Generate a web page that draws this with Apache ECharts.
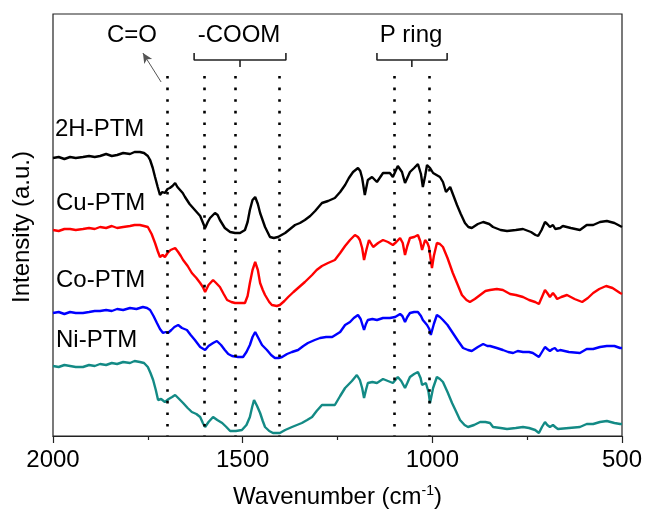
<!DOCTYPE html>
<html>
<head>
<meta charset="utf-8">
<script src="https://cdn.jsdelivr.net/npm/echarts@6/dist/echarts.min.js"></script>
<style>
html, body {margin: 0; padding: 0; background: #fff;}
#main {width: 646px; height: 523px;}
</style>
</head>
<body>
<div id="main"></div>
<script>
// FTIR spectra, stacked with offsets (a.u.), x = wavenumber (cm-1)
var sampleNames = ['2H-PTM', 'Cu-PTM', 'Co-PTM', 'Ni-PTM'];
var lineColors = ['#000000', '#ff0000', '#0000ff', '#138a85'];

var spec2H = [[2000,278],[1985,279],[1970,277],[1955,279],[1940,278],[1921,279],[1905,280],[1890,279],[1876,280],[1860,282],[1845,280],[1831,281],[1815,283],[1797,282],[1785,284],[1771,284],[1760,283],[1750,280],[1744,276],[1737,268],[1731,259],[1724,249],[1718,241],[1712,244],[1705,243],[1698,247],[1692,248],[1685,250],[1678,253],[1672,249],[1665,246],[1658,243],[1652,239],[1640,232],[1626,226],[1612,220],[1599,208],[1592,214],[1586,218],[1573,223],[1566,221],[1560,216],[1547,208],[1533,204],[1520,203],[1507,203],[1494,206],[1487,214],[1481,226],[1474,236],[1467,239],[1460,232],[1454,223],[1441,209],[1428,199],[1418,198],[1407,199],[1388,203],[1375,207],[1362,211],[1349,213],[1336,216],[1322,220],[1309,225],[1300,229],[1291,233],[1275,235],[1257,238],[1243,244],[1230,251],[1220,258],[1209,264],[1196,268],[1190,265],[1185,258],[1178,241],[1170,256],[1159,259],[1146,254],[1130,263],[1112,263],[1104,259],[1091,270],[1080,264],[1072,253],[1059,264],[1048,268],[1038,272],[1030,262],[1025,249],[1019,260],[1014,271],[1006,268],[998,263],[980,259],[972,254],[964,244],[953,249],[944,240],[935,231],[925,222],[914,213],[905,209],[896,208],[880,212],[866,214],[850,212],[840,209],[820,206],[803,205],[780,206],[761,207],[740,204],[728,201],[721,200],[712,206],[703,214],[697,212],[690,209],[682,211],[676,207],[671,205],[663,208],[656,210],[635,208],[611,206],[593,211],[576,211],[558,214],[540,215],[520,213],[505,210],[500,209]];

var specCu = [[2000,206],[1985,205],[1970,207],[1955,207],[1940,206],[1921,207],[1905,208],[1890,207],[1876,209],[1860,208],[1845,210],[1831,208],[1815,209],[1797,210],[1785,211],[1771,211],[1760,210],[1750,209],[1740,202],[1731,193],[1724,185],[1718,179],[1711,181],[1705,179],[1698,183],[1690,186],[1678,188],[1670,184],[1663,180],[1657,176],[1645,170],[1634,163],[1622,158],[1612,153],[1605,149],[1599,144],[1590,151],[1578,156],[1570,153],[1560,149],[1550,142],[1541,136],[1530,134],[1520,133],[1507,133],[1494,133],[1487,140],[1481,153],[1474,166],[1467,174],[1460,166],[1454,153],[1447,146],[1441,141],[1430,134],[1423,131],[1410,130],[1402,131],[1390,135],[1380,139],[1366,144],[1354,148],[1336,154],[1317,161],[1305,166],[1291,170],[1275,173],[1257,176],[1243,183],[1230,190],[1217,196],[1204,201],[1196,199],[1191,196],[1185,188],[1180,176],[1174,186],[1167,196],[1156,189],[1143,193],[1130,196],[1117,194],[1104,191],[1095,194],[1085,198],[1078,193],[1072,181],[1066,190],[1059,198],[1048,199],[1038,201],[1032,195],[1027,186],[1019,196],[1013,193],[1009,189],[1004,176],[1001,168],[996,180],[988,193],[980,192],[972,189],[960,178],[946,163],[934,152],[922,141],[910,136],[901,134],[888,137],[874,141],[860,145],[848,146],[830,147],[814,146],[795,142],[780,141],[761,139],[745,136],[729,134],[719,132],[711,139],[703,146],[697,143],[690,139],[682,143],[676,140],[671,137],[660,139],[645,141],[625,137],[605,134],[590,138],[576,143],[560,147],[542,150],[525,148],[505,143],[500,142]];

var specCo = [[2000,123],[1985,124],[1970,122],[1955,124],[1940,123],[1921,123],[1905,124],[1890,125],[1876,125],[1860,126],[1845,125],[1831,127],[1815,126],[1797,128],[1780,127],[1763,129],[1752,128],[1744,126],[1735,120],[1726,113],[1718,107],[1710,103],[1703,104],[1697,103],[1688,106],[1680,109],[1670,111],[1660,108],[1647,106],[1637,101],[1626,96],[1612,89],[1599,86],[1590,90],[1578,93],[1568,95],[1557,91],[1547,86],[1538,82],[1528,80],[1512,79],[1499,79],[1490,84],[1481,91],[1474,99],[1467,104],[1460,99],[1449,91],[1436,86],[1425,81],[1415,78],[1405,78],[1396,79],[1383,82],[1370,84],[1354,86],[1340,90],[1328,93],[1310,96],[1296,98],[1280,99],[1264,99],[1243,104],[1230,111],[1217,114],[1207,118],[1196,121],[1189,117],[1180,106],[1175,112],[1170,116],[1158,117],[1146,116],[1130,118],[1112,118],[1098,119],[1085,122],[1079,120],[1072,114],[1066,119],[1059,123],[1048,124],[1038,124],[1030,120],[1025,116],[1014,111],[1008,107],[1004,101],[996,112],[988,121],[980,119],[972,116],[960,111],[946,103],[932,95],[919,88],[906,86],[896,85],[880,89],[866,92],[855,90],[848,90],[830,88],[814,86],[800,84],[787,83],[775,85],[761,84],[745,84],[735,83],[719,79],[711,84],[703,89],[697,87],[690,85],[683,87],[677,88],[670,85],[663,86],[640,84],[611,83],[593,87],[576,87],[558,89],[540,90],[520,90],[505,88],[500,88]];

var specNi = [[2000,70],[1985,69],[1970,71],[1955,70],[1940,69],[1921,69],[1905,71],[1890,70],[1876,72],[1860,71],[1845,73],[1831,72],[1815,74],[1797,73],[1785,75],[1771,74],[1760,73],[1750,69],[1743,63],[1736,56],[1729,46],[1723,36],[1715,37],[1705,34],[1695,37],[1686,39],[1678,41],[1670,38],[1657,33],[1645,28],[1634,24],[1622,22],[1612,19],[1605,13],[1599,9],[1590,14],[1578,19],[1567,16],[1554,13],[1543,9],[1533,5],[1518,5],[1502,6],[1490,11],[1481,19],[1475,29],[1470,36],[1462,30],[1454,23],[1447,15],[1441,9],[1430,5],[1420,3],[1410,3],[1402,3],[1388,6],[1370,9],[1357,11],[1344,13],[1330,16],[1317,19],[1305,25],[1291,31],[1275,31],[1257,31],[1243,40],[1230,48],[1225,49],[1212,55],[1199,61],[1191,56],[1185,48],[1180,38],[1175,46],[1170,53],[1158,54],[1146,53],[1130,57],[1117,55],[1104,53],[1091,59],[1082,55],[1072,48],[1066,53],[1059,59],[1048,62],[1038,64],[1031,58],[1027,51],[1017,53],[1010,44],[1006,33],[998,48],[988,59],[980,57],[972,54],[960,44],[948,33],[938,25],[927,16],[915,11],[906,9],[890,11],[874,14],[860,14],[848,13],[840,9],[820,8],[803,7],[780,8],[761,9],[745,8],[729,6],[719,3],[711,9],[703,14],[697,11],[690,9],[682,11],[676,9],[669,7],[640,8],[611,9],[593,12],[576,12],[558,14],[540,15],[520,13],[505,12],[500,12]];

// band positions (cm-1) marked by dotted lines
var peakLines = [1700, 1600, 1520, 1403, 1100, 1008];
// bracket spans [left, centre, right] in cm-1
var coomBracket = [1628, 1507, 1386];
var pringBracket = [1146, 1054, 961];
var bandLabels = ['C=O', '-COOM', 'P ring'];

var FONT = '"Liberation Sans", Arial, sans-serif';

var chart = echarts.init(document.getElementById('main'));

function bracketSeries(b) {
    return [{
        type: 'line', silent: true, symbol: 'none', z: 5,
        lineStyle: {color: '#222', width: 1.6},
        data: [[b[0], 383], [b[0], 376], [b[2], 376], [b[2], 383]]
    }, {
        type: 'line', silent: true, symbol: 'none', z: 5,
        lineStyle: {color: '#222', width: 1.6},
        data: [[b[1], 376], [b[1], 369]]
    }];
}

var specs = [spec2H, specCu, specCo, specNi];
var series = specs.map(function (d, i) {
    return {
        name: sampleNames[i],
        type: 'line',
        data: d,
        symbol: 'none',
        smooth: false,
        z: 3,
        lineStyle: {color: lineColors[i], width: 2.4},
        itemStyle: {color: lineColors[i]}
    };
});

// dotted band markers + C=O arrow
series.push({
    type: 'line', data: [], silent: true, z: 4,
    markLine: {
        silent: true,
        symbol: 'none',
        label: {show: false},
        lineStyle: {color: '#000', width: 2.6, type: [2.6, 9], cap: 'butt'},
        data: peakLines.map(function (w) {
            return [{coord: [w, 360]}, {coord: [w, 0]}];
        }).concat([[
            {coord: [1715, 354], symbol: 'none', lineStyle: {color: '#555', width: 1, type: 'solid'}},
            {coord: [1763, 383], symbol: 'arrow', symbolSize: [7, 10], lineStyle: {color: '#555', width: 1, type: 'solid'}}
        ]])
    }
});
series = series.concat(bracketSeries(coomBracket), bracketSeries(pringBracket));

function txt(s, x, y, align) {
    return {
        type: 'text', x: x, y: y, silent: true,
        style: {text: s, font: '24px ' + FONT, fill: '#000', align: align || 'left', verticalAlign: 'middle'}
    };
}

var option = {
    animation: false,
    backgroundColor: '#fff',
    grid: {left: 53, right: 24, top: 14, bottom: 87, show: true, borderColor: '#222', borderWidth: 1.2, backgroundColor: 'transparent'},
    xAxis: {
        type: 'value',
        inverse: true,
        min: 500,
        max: 2000,
        interval: 500,
        axisLine: {show: true, lineStyle: {color: '#222', width: 1.2}},
        axisTick: {show: true, inside: false, length: 7, lineStyle: {color: '#222', width: 1.2}},
        minorTick: {show: true, splitNumber: 2, length: 4, lineStyle: {color: '#222', width: 1.2}},
        splitLine: {show: false},
        axisLabel: {
            fontFamily: FONT, fontSize: 24, color: '#000', margin: 12,
            formatter: function (v) { return String(v); }
        },
        name: 'Wavenumber (cm{sup|-1})',
        nameLocation: 'middle',
        nameGap: 48,
        nameTextStyle: {
            fontFamily: FONT, fontSize: 24, color: '#000',
            rich: {sup: {fontFamily: FONT, fontSize: 14, color: '#000', verticalAlign: 'top', padding: [0, 0, 12, 0]}}
        }
    },
    yAxis: {
        type: 'value',
        min: 0,
        max: 422,
        axisLine: {show: false},
        axisTick: {show: false},
        axisLabel: {show: false},
        splitLine: {show: false}
    },
    graphic: [
        txt(sampleNames[0], 55, 129),
        txt(sampleNames[1], 56, 203),
        txt(sampleNames[2], 56, 280),
        txt(sampleNames[3], 56, 340),
        txt(bandLabels[0], 132, 35, 'center'),
        txt(bandLabels[1], 239, 35, 'center'),
        txt(bandLabels[2], 411, 35, 'center'),
        {
            type: 'text', x: 22, y: 227, rotation: Math.PI / 2, silent: true,
            style: {text: 'Intensity (a.u.)', font: '24px ' + FONT, fill: '#000', align: 'center', verticalAlign: 'middle'}
        }
    ],
    series: series
};

chart.setOption(option);
</script>
</body>
</html>
